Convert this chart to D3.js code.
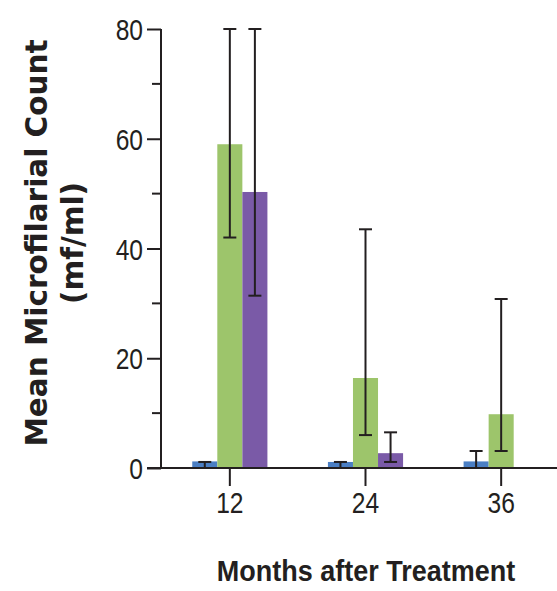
<!DOCTYPE html>
<html>
<head>
<meta charset="utf-8">
<script src="https://cdn.jsdelivr.net/npm/d3@7"></script>
<style>
  body { margin: 0; background: #fff; }
  svg { display: block; }
  .tick-label { font-family: "Liberation Sans", sans-serif; font-size: 30px; fill: #231f20; }
  .x-title { font-family: "Liberation Sans", sans-serif; font-weight: bold; font-size: 30px; fill: #231f20; }
  .y-title { font-family: "DejaVu Sans", sans-serif; font-weight: bold; font-size: 29.5px; fill: #231f20; }
</style>
</head>
<body>
<svg id="chart"></svg>
<script>
// months after treatment
const months = [12, 24, 36];
const seriesNames = ["Group A", "Group B", "Group C"];
const seriesColors = ["#4b7fc4", "#9dc56b", "#7a5aa7"];

// mean counts with lower / upper error values, one array per series
const meanA = [1.2, 1.1, 1.2];
const lowA = [0, 0, 0];
const highA = [1.1, 1.1, 3.1];

const meanB = [59.0, 16.4, 9.8];
const lowB = [42.0, 6.0, 3.1];
const highB = [80.0, 43.5, 30.8];

const meanC = [50.3, 2.7, null];
const lowC = [31.4, 1.1, null];
const highC = [80.0, 6.5, null];

const yTicks = [0, 20, 40, 60, 80];
const yMinorTicks = [10, 30, 50, 70];

const width = 557, height = 591;
const margin = {left: 161, top: 29, bottom: 123};
const narrow = 0.82; // squeeze for the condensed face of the original

const svg = d3.select("#chart").attr("width", width).attr("height", height);

const y = d3.scaleLinear().domain([0, 80]).range([height - margin.bottom, margin.top]);
const x = d3.scaleBand().domain(months).range([162, 569]).paddingInner(0.446).paddingOuter(0.223);
const xs = d3.scaleBand().domain(seriesNames).range([0, x.bandwidth()]);

const data = [];
months.forEach((m, i) => {
    [[meanA, lowA, highA], [meanB, lowB, highB], [meanC, lowC, highC]].forEach((s, j) => {
        if (s[0][i] == null) return;
        data.push({month: m, series: seriesNames[j], color: seriesColors[j],
            mean: s[0][i], low: s[1][i], high: s[2][i]});
    });
});

// bars
svg.append("g").selectAll("rect")
    .data(data)
    .join("rect")
    .attr("x", d => x(d.month) + xs(d.series))
    .attr("y", d => y(d.mean))
    .attr("width", xs.bandwidth())
    .attr("height", d => y(0) - y(d.mean))
    .attr("fill", d => d.color);

// error bars
const capW = 13;
const err = svg.append("g").attr("stroke", "#231f20").attr("stroke-width", 2);
data.forEach(d => {
    const cx = x(d.month) + xs(d.series) + xs.bandwidth() / 2;
    err.append("line").attr("x1", cx).attr("x2", cx).attr("y1", y(d.low)).attr("y2", y(d.high));
    err.append("line").attr("x1", cx - capW / 2).attr("x2", cx + capW / 2).attr("y1", y(d.high)).attr("y2", y(d.high));
    if (d.low > 0) {
        err.append("line").attr("x1", cx - capW / 2).attr("x2", cx + capW / 2).attr("y1", y(d.low)).attr("y2", y(d.low));
    }
});

// y axis
const yAxis = svg.append("g")
    .attr("transform", `translate(${margin.left},0)`)
    .call(d3.axisLeft(y).tickValues(yTicks).tickSize(14).tickPadding(4));
yAxis.attr("font-size", null).attr("font-family", null);
yAxis.select(".domain").attr("d", `M0,${y(80)}V${y(0)}`).attr("stroke", "#231f20").attr("stroke-width", 2);
yAxis.selectAll(".tick line").attr("stroke", "#231f20").attr("stroke-width", 2);
yAxis.selectAll(".tick text").attr("class", "tick-label")
    .attr("x", 0).attr("dy", "0.35em")
    .attr("transform", `translate(-18,0) scale(${narrow},1)`);
yAxis.selectAll(".minor").data(yMinorTicks).join("line")
    .attr("class", "minor")
    .attr("x1", -9).attr("x2", 0)
    .attr("y1", d => y(d)).attr("y2", d => y(d))
    .attr("stroke", "#231f20").attr("stroke-width", 2);

// x axis
const xAxis = svg.append("g")
    .attr("transform", `translate(0,${y(0)})`)
    .call(d3.axisBottom(x).tickSize(18).tickPadding(6));
xAxis.attr("font-size", null).attr("font-family", null);
xAxis.select(".domain").attr("d", `M${margin.left - 14},0H${width}`).attr("stroke", "#231f20").attr("stroke-width", 2);
xAxis.selectAll(".tick line").attr("stroke", "#231f20").attr("stroke-width", 2);
xAxis.selectAll(".tick text").attr("class", "tick-label").attr("dy", "0.71em")
    .attr("transform", `scale(${narrow},1)`);

// titles
svg.append("text").attr("class", "x-title")
    .attr("transform", "translate(366,581) scale(0.9,1)")
    .attr("text-anchor", "middle")
    .text("Months after Treatment");

const yt = svg.append("text").attr("class", "y-title")
    .attr("transform", "translate(47,243) rotate(-90)")
    .attr("text-anchor", "middle");
yt.append("tspan").attr("x", 0).attr("y", 0).text("Mean Microfilarial Count");
yt.append("tspan").attr("x", 0).attr("y", 36).text("(mf/ml)");
</script>
</body>
</html>
